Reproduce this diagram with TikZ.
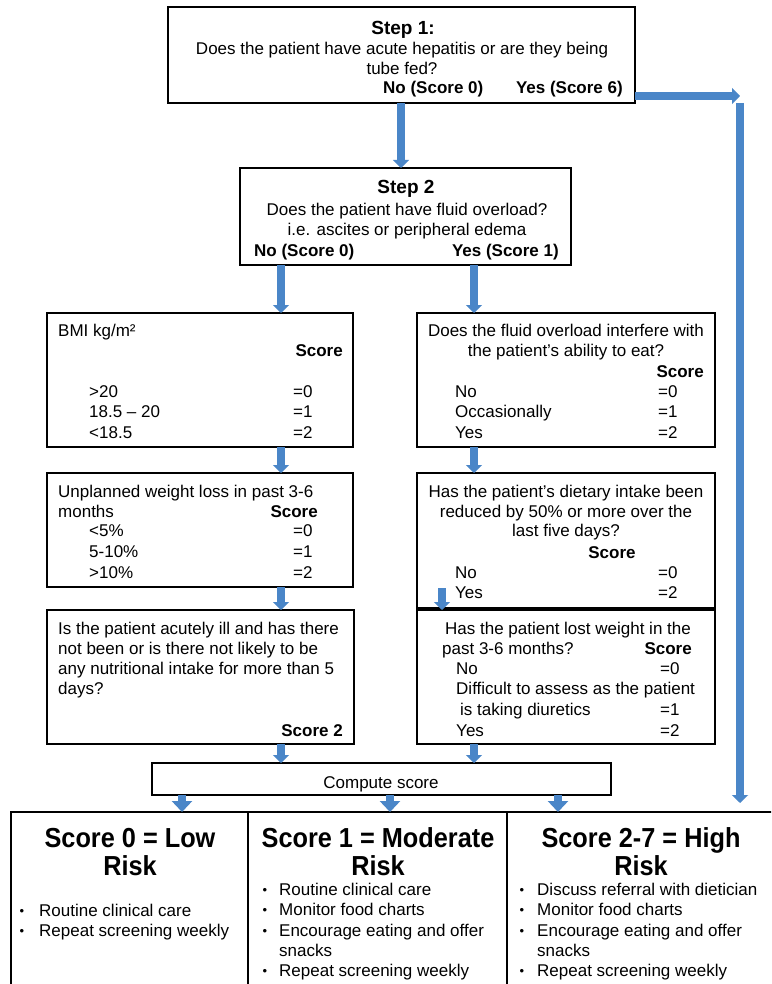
\documentclass[tikz,border=0pt]{standalone}
\usepackage{fontspec}
\setmainfont{Liberation Sans}
\newfontfamily\titlefont{Liberation Sans}[FakeStretch=0.92]
\usetikzlibrary{arrows.meta}
\definecolor{arrowblue}{HTML}{4A86C8}
\begin{document}
\begin{tikzpicture}[x=1pt,y=-1pt,
  box/.style={draw=black, line width=1.8pt, rectangle, inner sep=0pt, outer sep=0pt, anchor=north west, fill=white},
  txt/.style={inner sep=0pt, font=\fontsize{17}{20}\selectfont},
  bld/.style={inner sep=0pt, font=\fontsize{17}{20}\selectfont\bfseries},
  head/.style={inner sep=0pt, font=\fontsize{19}{22}\selectfont\bfseries},
  title/.style={inner sep=0pt, font=\titlefont\fontsize{27.5}{30}\selectfont\bfseries},
  bul/.style={inner sep=0pt, font=\fontsize{13}{14}\selectfont},
  flow/.style={draw=arrowblue, line width=7.5pt, -{Triangle[width=16pt,length=8pt]}},
  flowshort/.style={draw=arrowblue, line width=7.5pt, -{Triangle[width=20pt,length=11pt]}},
]
\clip (0,0) rectangle (771,984);
\fill[white] (0,0) rectangle (771,984);

% boxes
\node[box, minimum width=467pt, minimum height=96pt] (s1) at (168,7) {};
\node[box, minimum width=331pt, minimum height=97pt] (s2) at (240,168) {};
\node[box, minimum width=306pt, minimum height=134pt] (bmi) at (47,313) {};
\node[box, minimum width=306pt, minimum height=114pt] (wl) at (47,473) {};
\node[box, minimum width=307pt, minimum height=134pt] (ill) at (47,610) {};
\node[box, minimum width=298pt, minimum height=134pt] (fl) at (417,313) {};
\node[box, minimum width=298pt, minimum height=135pt] (di) at (417,473) {};
\node[box, minimum width=298pt, minimum height=134pt] (lw) at (417,610) {};
\node[box, minimum width=459pt, minimum height=32pt] (cs) at (152,763) {};
\node[box, minimum width=237pt, minimum height=190pt] (r1) at (11,812) {};
\node[box, minimum width=259pt, minimum height=190pt] (r2) at (248,812) {};
\node[box, minimum width=280pt, minimum height=190pt] (r3) at (507,812) {};

% Step 1
\node[head, anchor=base] (s1a) at (403,35) {Step 1:};
\node[txt, anchor=base] (s1b) at (402,55) {Does the patient have acute hepatitis or are they being};
\node[txt, anchor=base] (s1c) at (402,75) {tube fed?};
\node[bld, anchor=base west] (s1d) at (383,94) {No (Score 0)};
\node[bld, anchor=base east] (s1e) at (623,94) {Yes (Score 6)};

% Step 2
\node[head, anchor=base] (s2a) at (406,194) {Step 2};
\node[txt, anchor=base] (s2b) at (407,216) {Does the patient have fluid overload?};
\node[txt, anchor=base] (s2c) at (407,236) {i.e. ascites or peripheral edema};
\node[bld, anchor=base west] (s2d) at (254,256) {No (Score 0)};
\node[bld, anchor=base east] (s2e) at (559,256) {Yes (Score 1)};

% BMI
\node[txt, anchor=base west] (b1) at (58,336) {BMI kg/m²};
\node[bld, anchor=base east] (b2) at (343,356) {Score};
\node[txt, anchor=base west] (b3) at (89,397) {>20};
\node[txt, anchor=base west] (b4) at (89,417) {18.5 – 20};
\node[txt, anchor=base west] (b5) at (89,438) {<18.5};
\node[txt, anchor=base west] (b6) at (293,397) {=0};
\node[txt, anchor=base west] (b7) at (293,417) {=1};
\node[txt, anchor=base west] (b8) at (293,438) {=2};

% Weight loss
\node[txt, anchor=base west] (w1) at (58,497) {Unplanned weight loss in past 3-6};
\node[txt, anchor=base west] (w2) at (58,517) {months};
\node[bld, anchor=base east] (w3) at (318,517) {Score};
\node[txt, anchor=base west] (w4) at (89,536) {<5\%};
\node[txt, anchor=base west] (w5) at (89,557) {5-10\%};
\node[txt, anchor=base west] (w6) at (89,578) {>10\%};
\node[txt, anchor=base west] (w7) at (293,536) {=0};
\node[txt, anchor=base west] (w8) at (293,557) {=1};
\node[txt, anchor=base west] (w9) at (293,578) {=2};

% Acutely ill
\node[txt, anchor=base west] (i1) at (58,634) {Is the patient acutely ill and has there};
\node[txt, anchor=base west] (i2) at (58,654) {not been or is there not likely to be};
\node[txt, anchor=base west] (i3) at (58,674) {any nutritional intake for more than 5};
\node[txt, anchor=base west] (i4) at (58,694) {days?};
\node[bld, anchor=base east] (i5) at (343,736) {Score 2};

% Fluid interfere
\node[txt, anchor=base] (f1) at (566,336) {Does the fluid overload interfere with};
\node[txt, anchor=base] (f2) at (566,356) {the patient's ability to eat?};
\node[bld, anchor=base east] (f3) at (704,377) {Score};
\node[txt, anchor=base west] (f4) at (455,397) {No};
\node[txt, anchor=base west] (f5) at (455,417) {Occasionally};
\node[txt, anchor=base west] (f6) at (455,438) {Yes};
\node[txt, anchor=base west] (f7) at (658,397) {=0};
\node[txt, anchor=base west] (f8) at (658,417) {=1};
\node[txt, anchor=base west] (f9) at (658,438) {=2};

% Dietary intake
\node[txt, anchor=base] (d1) at (566,497) {Has the patient's dietary intake been};
\node[txt, anchor=base] (d2) at (566,517) {reduced by 50\% or more over the};
\node[txt, anchor=base] (d3) at (566,536) {last five days?};
\node[bld, anchor=base] (d4) at (612,558) {Score};
\node[txt, anchor=base west] (d5) at (455,578) {No};
\node[txt, anchor=base west] (d6) at (455,598) {Yes};
\node[txt, anchor=base west] (d7) at (658,578) {=0};
\node[txt, anchor=base west] (d8) at (658,598) {=2};

% Lost weight
\node[txt, anchor=base] (l1) at (568,634) {Has the patient lost weight in the};
\node[txt, anchor=base west] (l2) at (442,654) {past 3-6 months?};
\node[bld, anchor=base east] (l3) at (692,654) {Score};
\node[txt, anchor=base west] (l4) at (456,674) {No};
\node[txt, anchor=base west] (l5) at (660,674) {=0};
\node[txt, anchor=base west] (l6) at (456,694) {Difficult to assess as the patient};
\node[txt, anchor=base west] (l7) at (460,715) {is taking diuretics};
\node[txt, anchor=base west] (l8) at (660,715) {=1};
\node[txt, anchor=base west] (l9) at (456,736) {Yes};
\node[txt, anchor=base west] (l10) at (660,736) {=2};

% Compute
\node[txt, anchor=base] (c1) at (381,788) {Compute score};

% Results
\node[title, anchor=base] (t1a) at (130,847) {Score 0 = Low};
\node[title, anchor=base] (t1b) at (130,875) {Risk};
\node[title, anchor=base] (t2a) at (378,847) {Score 1 = Moderate};
\node[title, anchor=base] (t2b) at (378,875) {Risk};
\node[title, anchor=base] (t3a) at (641,847) {Score 2-7 = High};
\node[title, anchor=base] (t3b) at (641,875) {Risk};

\node[bul, anchor=base] (p1a) at (22,915) {•};
\node[txt, anchor=base west] (q1a) at (39,916) {Routine clinical care};
\node[bul, anchor=base] (p1b) at (22,935) {•};
\node[txt, anchor=base west] (q1b) at (39,936) {Repeat screening weekly};

\node[bul, anchor=base] (p2a) at (265,894) {•};
\node[txt, anchor=base west] (q2a) at (279,895) {Routine clinical care};
\node[bul, anchor=base] (p2b) at (265,914) {•};
\node[txt, anchor=base west] (q2b) at (279,915) {Monitor food charts};
\node[bul, anchor=base] (p2c) at (265,935) {•};
\node[txt, anchor=base west] (q2c) at (279,936) {Encourage eating and offer};
\node[txt, anchor=base west] (q2d) at (279,956) {snacks};
\node[bul, anchor=base] (p2e) at (265,975) {•};
\node[txt, anchor=base west] (q2e) at (279,976) {Repeat screening weekly};

\node[bul, anchor=base] (p3a) at (522,894) {•};
\node[txt, anchor=base west] (q3a) at (537,895) {Discuss referral with dietician};
\node[bul, anchor=base] (p3b) at (522,914) {•};
\node[txt, anchor=base west] (q3b) at (537,915) {Monitor food charts};
\node[bul, anchor=base] (p3c) at (522,935) {•};
\node[txt, anchor=base west] (q3c) at (537,936) {Encourage eating and offer};
\node[txt, anchor=base west] (q3d) at (537,956) {snacks};
\node[bul, anchor=base] (p3e) at (522,975) {•};
\node[txt, anchor=base west] (q3e) at (537,976) {Repeat screening weekly};

% connectors
\coordinate (yesend) at (740,96);
\coordinate (vtop) at (740,103);
\coordinate (vend) at (740,803);
\draw[flow] (401,0 |- s1.south) -- (401,0 |- s2.north);
\draw[flow] (s1.east |- 0,96) -- (yesend);
\draw[flow] (vtop) -- (vend);
\draw[flow] (281,0 |- s2.south) -- (281,0 |- bmi.north);
\draw[flow] (474,0 |- s2.south) -- (474,0 |- fl.north);
\draw[flow] (281,0 |- bmi.south) -- (281,0 |- wl.north);
\draw[flow] (281,0 |- wl.south) -- (281,0 |- ill.north);
\draw[flow] (474,0 |- fl.south) -- (474,0 |- di.north);
\draw[flow] (442,588) -- (442,0 |- lw.north);
\draw[flow] (281,0 |- ill.south) -- (281,0 |- cs.north);
\draw[flow] (474,0 |- lw.south) -- (474,0 |- cs.north);
\draw[flowshort] (182,0 |- cs.south) -- (182,0 |- r1.north);
\draw[flowshort] (390,0 |- cs.south) -- (390,0 |- r2.north);
\draw[flowshort] (558,0 |- cs.south) -- (558,0 |- r3.north);
\end{tikzpicture}
\end{document}
